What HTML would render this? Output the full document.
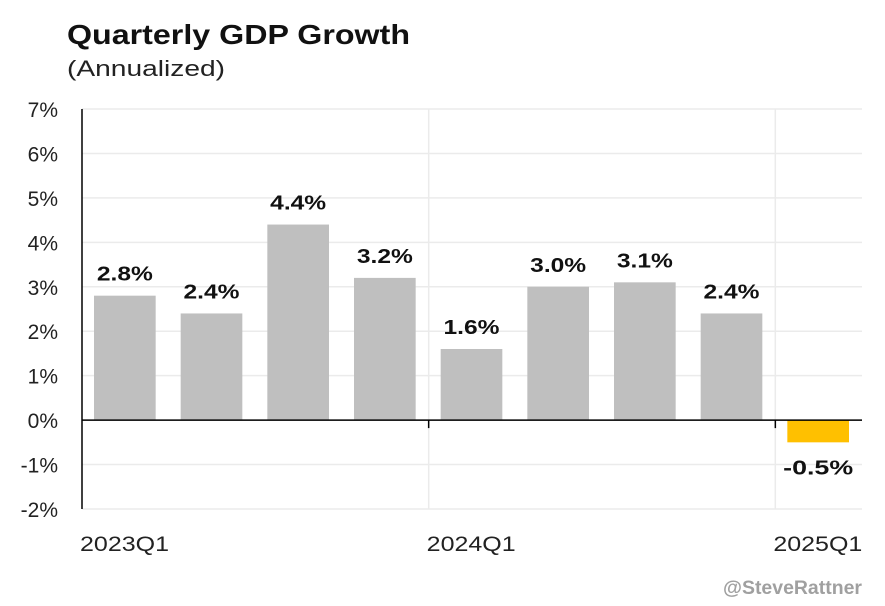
<!DOCTYPE html>
<html><head><meta charset="utf-8"><style>
body{margin:0;background:#fff;width:885px;height:601px;overflow:hidden;font-family:"Liberation Sans",sans-serif;}
</style></head><body>
<svg id="chart" width="885" height="601" xmlns="http://www.w3.org/2000/svg">
<text x="67" y="44" font-size="28" font-weight="bold" fill="#111" textLength="343" lengthAdjust="spacingAndGlyphs">Quarterly GDP Growth</text>
<text x="67" y="76" font-size="22" fill="#222" textLength="158" lengthAdjust="spacingAndGlyphs">(Annualized)</text>
<g id="grid"></g><g id="bars"></g><g id="axes"></g>
<text x="862" y="594" font-size="19" font-weight="bold" fill="#a0a0a0" text-anchor="end" textLength="139" lengthAdjust="spacingAndGlyphs">@SteveRattner</text>
</svg>
<script>
const categories=["2023Q1","2023Q2","2023Q3","2023Q4","2024Q1","2024Q2","2024Q3","2024Q4","2025Q1"];
const values=[2.8,2.4,4.4,3.2,1.6,3.0,3.1,2.4,-0.5];
const valueLabels=["2.8%","2.4%","4.4%","3.2%","1.6%","3.0%","3.1%","2.4%","-0.5%"];
const yTicks=[-2,-1,0,1,2,3,4,5,6,7];
const xLabelIdx=[0,4,8];
const NS="http://www.w3.org/2000/svg";
const L=82,R=862,T=109,B=509,yMin=-2,yMax=7;
const band=(R-L)/categories.length;
const y=v=>B-(v-yMin)/(yMax-yMin)*(B-T);
const x=i=>L+i*band;
function mk(t,a,p){const e=document.createElementNS(NS,t);for(const k in a)e.setAttribute(k,a[k]);p.appendChild(e);return e;}
const grid=document.getElementById('grid'),bars=document.getElementById('bars'),axes=document.getElementById('axes');
yTicks.forEach(v=>{
 const l=mk('line',{x1:L,x2:R,y1:y(v),y2:y(v),stroke:'#ebebeb','stroke-width':1.5},grid);
 
 
 const t=mk('text',{x:58,y:y(v)+8,'font-size':21,'text-anchor':'end',fill:'#222'},axes);
 t.textContent=v+'%';
 
 
});
xLabelIdx.forEach(i=>{
 if(i>0){const g=mk('line',{x1:x(i),x2:x(i),y1:T,y2:B,stroke:'#ebebeb','stroke-width':1.5},grid);
 
 
 const tk=mk('line',{x1:x(i),x2:x(i),y1:y(0),y2:y(0)+8,stroke:'#000','stroke-width':1.5},axes);
 
 }
 const t=mk('text',{x:x(i)-2,y:551,'font-size':21,fill:'#222',textLength:89,lengthAdjust:'spacingAndGlyphs'},axes);
 t.textContent=categories[i];
 
 
});
values.forEach((v,i)=>{
 const bx=x(i)+12,w=band-25;
 const r=mk('rect',{x:bx,y:Math.min(y(v),y(0)),width:w,height:Math.abs(y(v)-y(0)),fill:v<0?'#ffc000':'#bfbfbf'},bars);
 
 
 const ly=v<0?y(v)+32:y(v)-15;
 const t=mk('text',{x:bx+w/2,y:ly,'font-size':20,'font-weight':'bold','text-anchor':'middle',fill:'#111',textLength:valueLabels[i].length*14,lengthAdjust:'spacingAndGlyphs'},bars);
 t.textContent=valueLabels[i];
 
 
});
const ax=mk('line',{x1:L,x2:L,y1:T,y2:B,stroke:'#000','stroke-width':1.5},axes);


const zl=mk('line',{x1:L,x2:R,y1:y(0),y2:y(0),stroke:'#000','stroke-width':1.5},axes);


</script>
</body></html>
